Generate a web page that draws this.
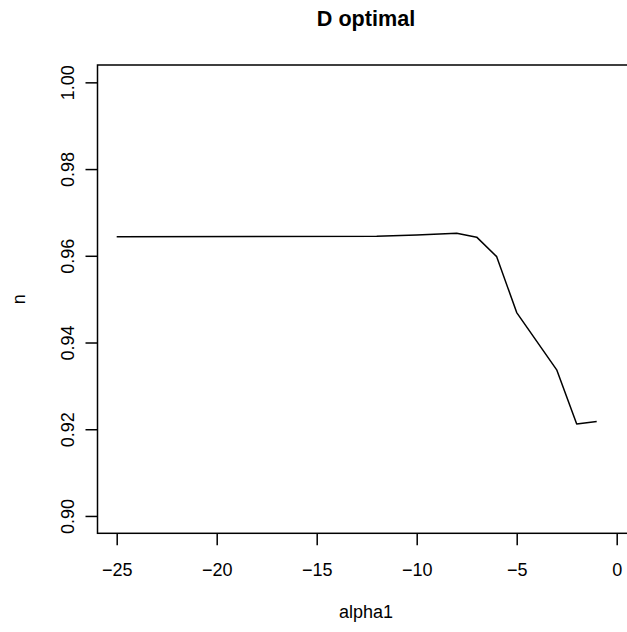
<!DOCTYPE html>
<html>
<head>
<meta charset="utf-8">
<script src="https://cdn.jsdelivr.net/npm/d3@7"></script>
<style>
  body { margin: 0; background: #fff; }
  svg { font-family: "Liberation Sans", Arial, Helvetica, sans-serif; }
</style>
</head>
<body>
<div id="chart"></div>
<script>
// values
const alpha1 = [-25, -12, -10, -8, -7, -6, -5, -3, -2, -1]
const nValues = [0.9644, 0.9645, 0.9648, 0.9652, 0.9643, 0.9598, 0.9469, 0.9337, 0.9212, 0.9218]
const xTicks = [-25, -20, -15, -10, -5, 0]
const yTicks = [0.90, 0.92, 0.94, 0.96, 0.98, 1.00]

const width = 627,
  height = 632,
  box = { left: 97.5, right: 634.5, top: 65, bottom: 533.3 }

const xScale = d3
  .scaleLinear()
  .domain([-25.96, 0.89])
  .range([box.left, box.right])

const yScale = d3
  .scaleLinear()
  .domain([0.896, 1.004])
  .range([box.bottom, box.top])

const svg = d3
  .select('#chart')
  .append('svg')
  .attr('width', width)
  .attr('height', height)

// plot box
svg
  .append('rect')
  .attr('x', box.left)
  .attr('y', box.top)
  .attr('width', box.right - box.left)
  .attr('height', box.bottom - box.top)
  .attr('fill', 'none')
  .attr('stroke', '#000')
  .attr('stroke-width', 1.5)

// x-axis
const xAxis = svg
  .append('g')
  .attr('transform', 'translate(0,' + box.bottom + ')')
  .call(
    d3
      .axisBottom(xScale)
      .tickValues(xTicks)
      .tickSize(12)
      .tickPadding(0)
      .tickFormat(d3.format('d'))
  )
xAxis.select('.domain').remove()
xAxis.selectAll('line').attr('stroke-width', 1.5)
xAxis
  .selectAll('text')
  .attr('dy', null)
  .attr('y', 576 - box.bottom)
  .style('font-size', '18px')
  .style('font-family', null)

// y-axis
const yAxis = svg
  .append('g')
  .attr('transform', 'translate(' + box.left + ',0)')
  .call(
    d3
      .axisLeft(yScale)
      .tickValues(yTicks)
      .tickSize(12)
      .tickFormat(d3.format('.2f'))
  )
yAxis.select('.domain').remove()
yAxis.selectAll('line').attr('stroke-width', 1.5)
yAxis
  .selectAll('text')
  .attr('x', null)
  .attr('dy', null)
  .attr('text-anchor', 'middle')
  .attr('transform', 'translate(' + (74 - box.left) + ',0) rotate(-90)')
  .style('font-size', '18px')
  .style('font-family', null)

// line
const line = d3
  .line()
  .x(d => xScale(d[0]))
  .y(d => yScale(d[1]))

svg
  .append('path')
  .datum(alpha1.map((a, i) => [a, nValues[i]]))
  .attr('fill', 'none')
  .attr('stroke', '#000')
  .attr('stroke-width', 1.5)
  .attr('stroke-linejoin', 'round')
  .attr('d', line)

// titles
svg
  .append('text')
  .attr('x', (box.left + box.right) / 2)
  .attr('y', 26)
  .attr('text-anchor', 'middle')
  .style('font-size', '21.6px')
  .style('font-weight', 'bold')
  .text('D optimal')

svg
  .append('text')
  .attr('x', (box.left + box.right) / 2)
  .attr('y', 618)
  .attr('text-anchor', 'middle')
  .style('font-size', '18px')
  .text('alpha1')

svg
  .append('text')
  .attr('transform', 'translate(25,' + (box.top + box.bottom) / 2 + ') rotate(-90)')
  .attr('text-anchor', 'middle')
  .style('font-size', '18px')
  .text('n')
</script>
</body>
</html>
